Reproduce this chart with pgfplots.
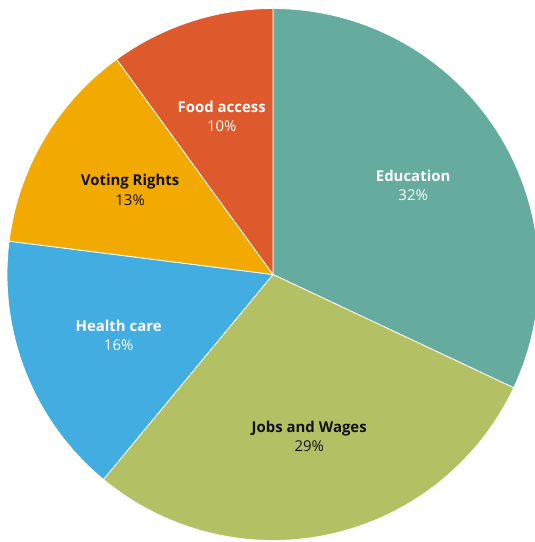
\documentclass[border=0pt]{standalone}
\usepackage{pgfplots}
\pgfplotsset{compat=1.18}
\usepackage{fontspec}
\setmainfont{Open Sans}
\definecolor{cEdu}{HTML}{65AC9E}
\definecolor{cJob}{HTML}{B3C164}
\definecolor{cHea}{HTML}{42ADE0}
\definecolor{cVot}{HTML}{F2A900}
\definecolor{cFoo}{HTML}{DE5A2C}
\definecolor{cTxtD}{HTML}{111111}
\newcommand\labelfont{\fontsize{15}{19.5}\selectfont}
% #1 cumulative share before, #2 share, #3 fill, #4 name, #5 text colour
\newcommand\slice[5]{%
 \pgfmathsetmacro\sa{90-3.6*(#1+#2)}%
 \pgfmathsetmacro\sb{90-3.6*#1}%
 \pgfmathsetmacro\sm{90-3.6*(#1+#2/2)}%
 \pgfmathsetmacro\lx{273+166*cos(\sm)}%
 \pgfmathsetmacro\ly{267.5+166*sin(\sm)}%
 \edef\doit{\noexpand\addplot[fill=#3, draw=white, line width=0.8pt, domain=\sa:\sb, samples=120, variable=\noexpand\t] ({273+266*cos(\noexpand\t)},{267.5+266*sin(\noexpand\t)}) -- (axis cs:273,267.5) -- cycle;
 \noexpand\node[text=#5, align=center, font=\noexpand\labelfont, inner sep=0pt] at (axis cs:\lx,\ly) {\noexpand\textbf{#4}\noexpand\\#2\noexpand\%};}%
 \doit}
\begin{document}
\begin{tikzpicture}
\begin{axis}[
  scale only axis, width=535bp, height=542bp,
  xmin=0, xmax=535, ymin=0, ymax=542,
  hide axis, clip=true,
]
\addplot[draw=none] coordinates {(0,0) (535,542)};
\slice{0}{32}{cEdu}{Education}{white}
\slice{32}{29}{cJob}{Jobs and Wages}{cTxtD}
\slice{61}{16}{cHea}{Health care}{white}
\slice{77}{13}{cVot}{Voting Rights}{cTxtD}
\slice{90}{10}{cFoo}{Food access}{white}
\end{axis}
\end{tikzpicture}
\end{document}
